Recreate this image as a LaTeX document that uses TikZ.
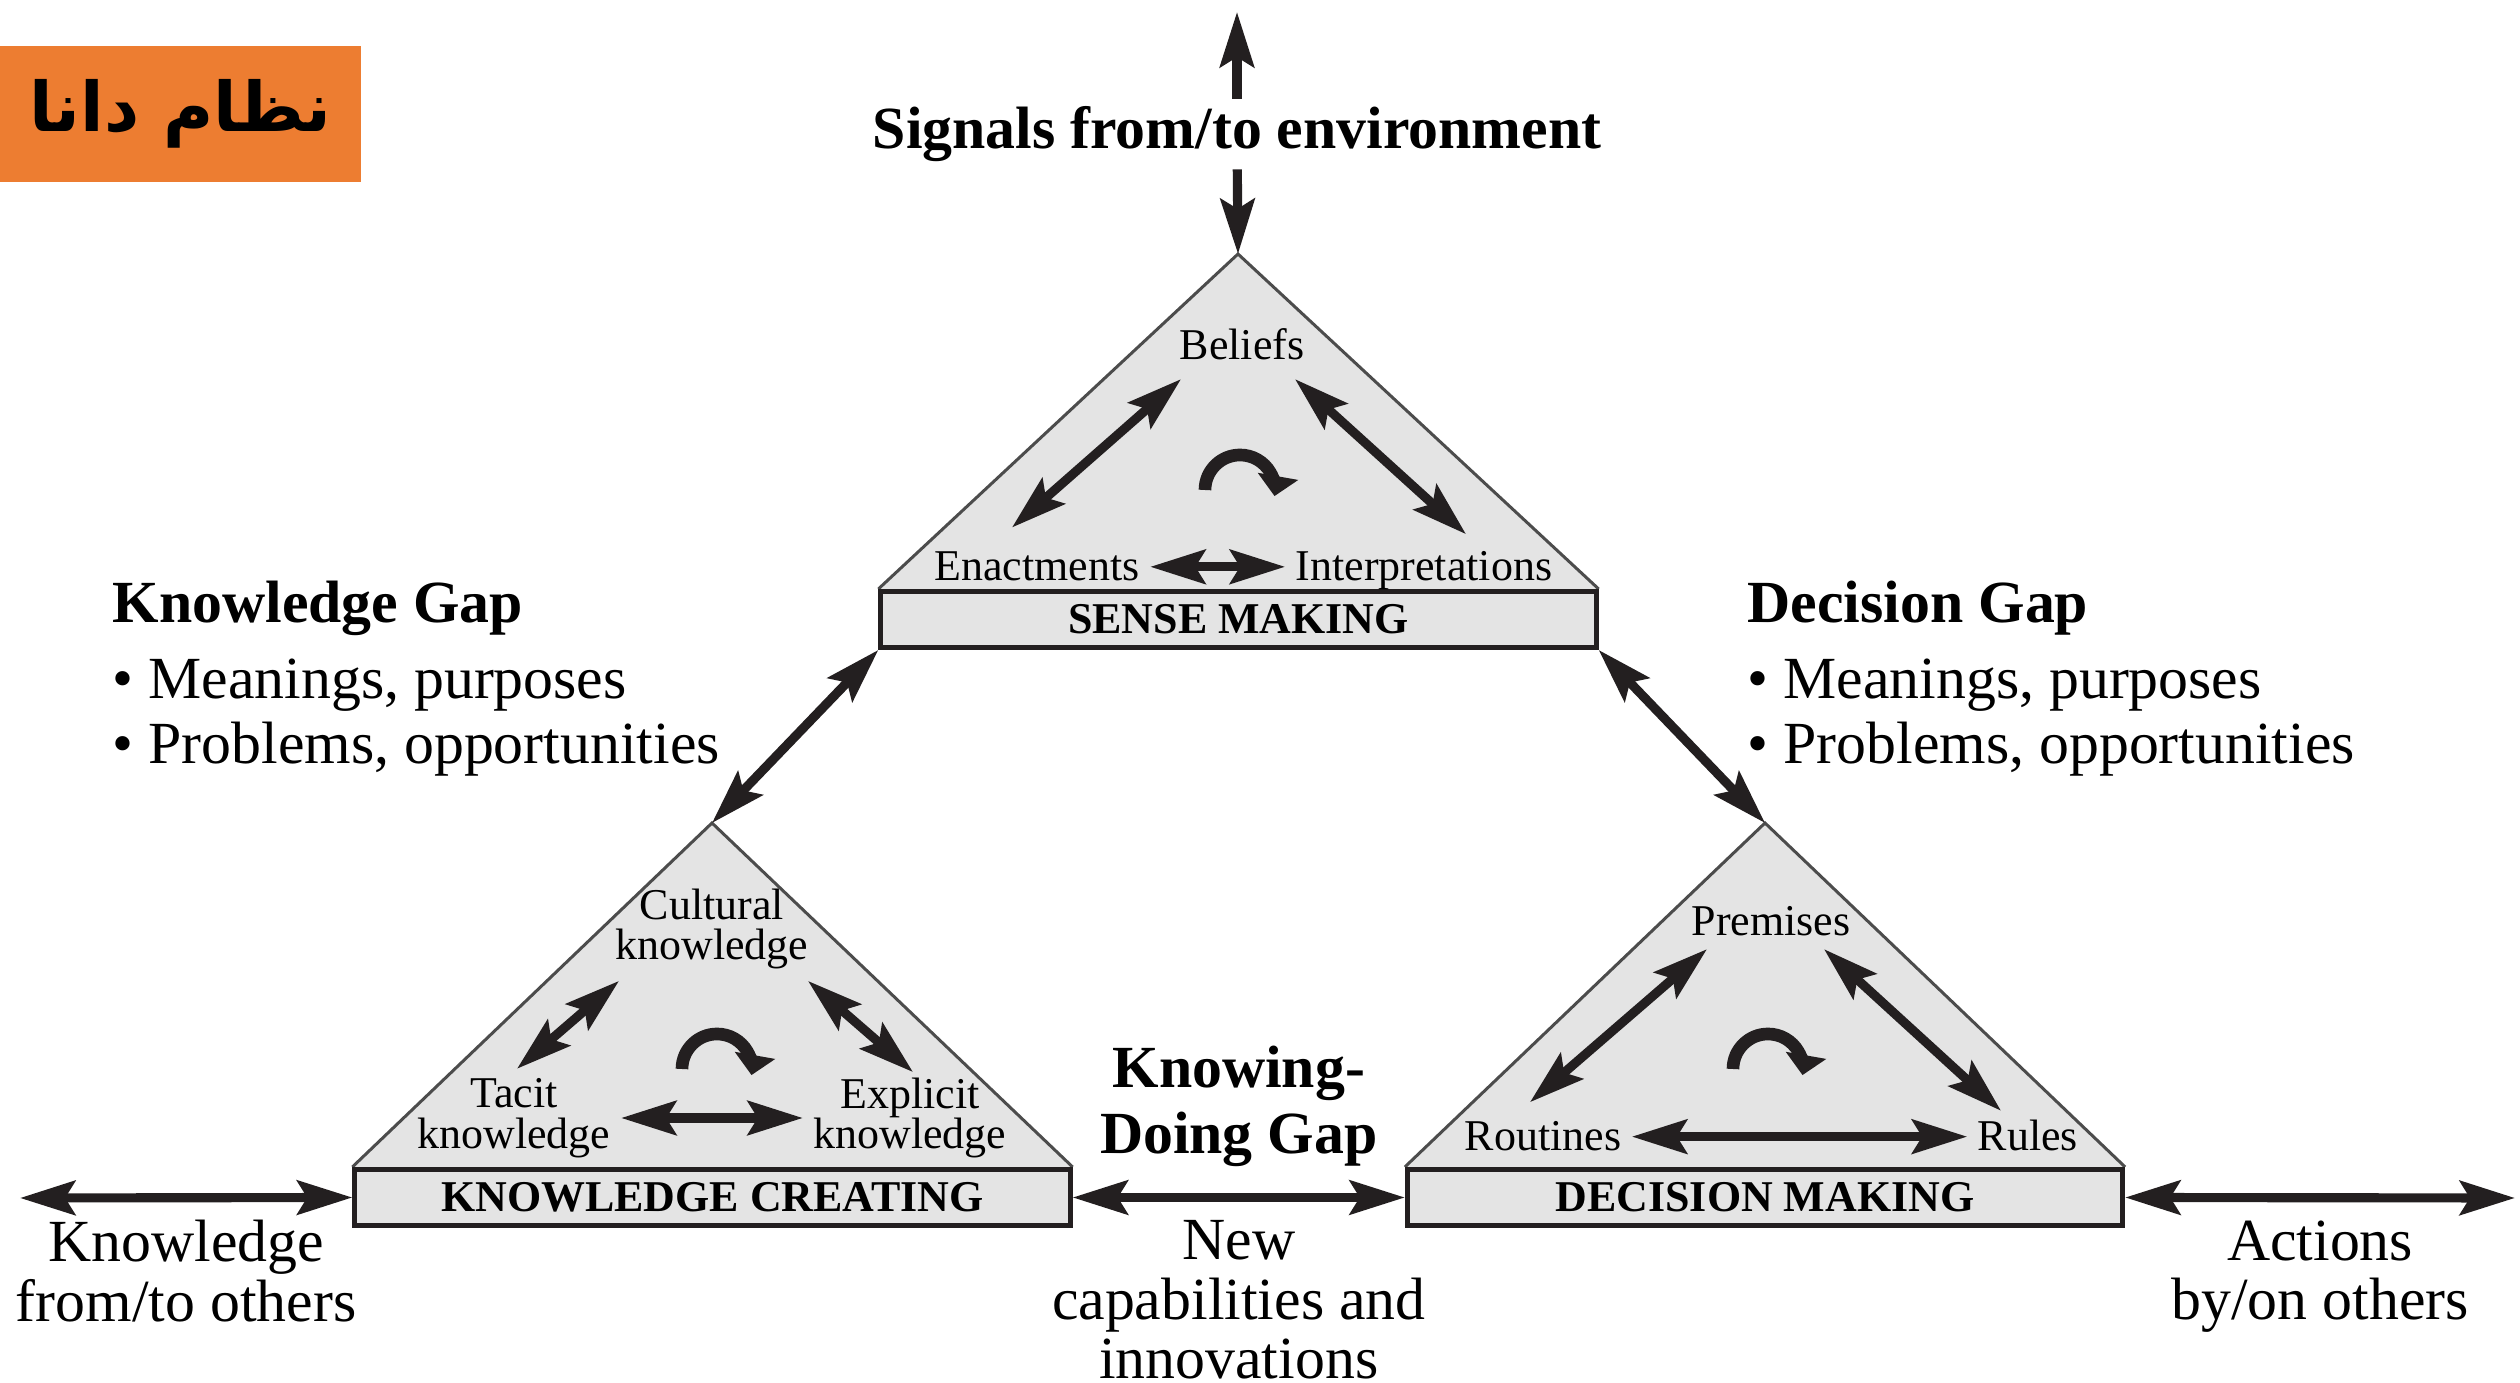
\documentclass[tikz,border=0pt]{standalone}
\usepackage{fontspec}
\setmainfont{Liberation Serif}
\newfontfamily\arabicfont[Script=Arabic]{DejaVu Sans}
\TeXXeTstate=1
\usetikzlibrary{arrows.meta, positioning, calc, backgrounds}
\definecolor{triGray}{HTML}{E4E4E4}
\definecolor{inkBlack}{HTML}{231F20}
\definecolor{danaOrange}{HTML}{ED7D31}

\tikzset{
  dbl/.style={line width=2.6pt, draw=inkBlack,
    arrows={Stealth[length=0.55cm, width=0.34cm, inset=0.1cm]-Stealth[length=0.55cm, width=0.34cm, inset=0.1cm]}},
  sgl/.style={line width=2.6pt, draw=inkBlack, arrows={-Stealth[length=0.55cm, width=0.34cm, inset=0.1cm]}},
  cyc/.style={line width=3.6pt, draw=inkBlack, arrows={-Triangle[width=0.4cm, length=0.2cm]}},
  tri/.style={fill=triGray, draw=black!70, line width=0.85pt},
  stage/.style={draw=inkBlack, fill=triGray, line width=1.4pt, minimum width=7.15cm,
    minimum height=0.56cm, inner sep=0pt, font=\fontsize{12.5}{14}\selectfont\bfseries},
  facet/.style={inner sep=0.1cm, align=center, font=\fontsize{12.5}{11.5}\selectfont},
  bigtxt/.style={inner sep=0pt, align=center, font=\fontsize{17}{17}\selectfont},
  bighead/.style={inner sep=0pt, align=center, font=\fontsize{17}{18.7}\selectfont\bfseries},
  gaplist/.style={inner sep=0pt, align=left, font=\fontsize{17}{18.5}\selectfont}
}

\begin{document}
\begin{tikzpicture}[x=0.01cm, y=-0.01cm]
  \useasboundingbox (0,0) rectangle (2520,1383);

  \node [fill=danaOrange, minimum width=3.61cm, minimum height=1.35cm, inner sep=0pt,
    font=\arabicfont\bfseries\fontsize{19.5}{20}\selectfont] (brand) at (180.5,114)
  {\beginR نظام دانا\endR};

  \node [bighead, inner sep=2pt] (sig) at (1237,134) {Signals from/to environment};
  \coordinate (envtop) at (1237,12);

  \node [stage] (sm) at (1238.5,619.5) {SENSE MAKING};
  \node [stage] (kc) at (712.5,1197.5) {KNOWLEDGE CREATING};
  \node [stage] (dm) at (1765,1197.5) {DECISION MAKING};
  \coordinate (smtop) at (1238,254);
  \coordinate (kctop) at (712,823);
  \coordinate (dmtop) at (1765,823);

  \begin{scope}[on background layer]
    \filldraw [tri] (sm.north west) -- (smtop) -- (sm.north east);
    \filldraw [tri] (kc.north west) -- (kctop) -- (kc.north east);
    \filldraw [tri] (dm.north west) -- (dmtop) -- (dm.north east);
  \end{scope}

  \draw [sgl] (sig) -- (envtop);
  \draw [sgl] (sig) -- (smtop);

  % sense making
  \node [facet, anchor=base] (bel) at (1242,360) {Beliefs};
  \node [facet, anchor=base] (ena) at (1037,581) {Enactments};
  \node [facet, anchor=base] (int) at (1424,581) {Interpretations};
  \draw [dbl] ([shift={(-61,8)}]bel.south) -- ([shift={(-25,-14)}]ena.north);
  \draw [dbl] ([shift={(53,8)}]bel.south) -- ([shift={(42,-7)}]int.north);
  \draw [dbl] (ena.east) -- (ena.east -| int.west);
  \draw [cyc] (1205,490) arc [start angle=180, end angle=-10, radius=0.35cm];

  % knowledge creating
  \node [facet] (cul) at (712,929) {Cultural\\knowledge};
  \node [facet] (tac) at (514,1118) {Tacit\\knowledge};
  \node [facet] (exp) at (910,1118) {Explicit\\knowledge};
  \draw [dbl] ([shift={(-93,1)}]cul.south) -- ([shift={(3,1)}]tac.north);
  \draw [dbl] ([shift={(96,1)}]cul.south) -- ([shift={(3,5)}]exp.north);
  \draw [dbl] (tac.east) -- (tac.east -| exp.west);
  \draw [cyc] (682,1069) arc [start angle=180, end angle=-10, radius=0.35cm];

  % decision making
  \node [facet, anchor=base] (pre) at (1771,936) {Premises};
  \node [facet, anchor=base] (rou) at (1543,1151) {Routines};
  \node [facet, anchor=base] (rul) at (2028,1151) {Rules};
  \draw [dbl] ([shift={(-64,2)}]pre.south) -- ([shift={(-13,-9)}]rou.north);
  \draw [dbl] ([shift={(53,2)}]pre.south) -- ([shift={(-27,1)}]rul.north);
  \draw [dbl] (rou.east) -- (rou.east -| rul.west);
  \draw [cyc] (1733,1069) arc [start angle=180, end angle=-10, radius=0.35cm];

  \draw [dbl] (sm.south west) -- (kctop);
  \draw [dbl] (sm.south east) -- (dmtop);

  \node [bighead, anchor=west] (kgap) at (112,608) {Knowledge Gap};
  \node [gaplist, below right=0.22cm and 0cm of kgap.south west] (kgaplist)
  {• Meanings, purposes\\• Problems, opportunities};
  \node [bighead, anchor=west] (dgap) at (1747,608) {Decision Gap};
  \node [gaplist, below right=0.22cm and 0cm of dgap.south west] (dgaplist)
  {• Meanings, purposes\\• Problems, opportunities};

  \coordinate (kfree) at (20,1198);
  \coordinate (afree) at (2515,1198);
  \path ($(kc.east)!0.5!(dm.west)$) coordinate (kdmid);
  \draw [dbl] (kfree) -- (kc.west);
  \draw [dbl] (kc.east) -- (dm.west);
  \draw [dbl] (dm.east) -- (afree);

  \node [bigtxt, below=0.22cm] (kfrom) at ($(kfree)!0.5!(kc.west)$) {Knowledge\\from/to others};
  \node [bigtxt, below=0.22cm of kdmid] (newcap) {New\\capabilities and\\innovations};
  \node [bighead, above=0.3cm of kdmid] (kdgap) {Knowing-\\Doing Gap};
  \node [bigtxt, below=0.22cm] (actions) at ($(dm.east)!0.5!(afree)$) {Actions\\by/on others};
\end{tikzpicture}
\end{document}
